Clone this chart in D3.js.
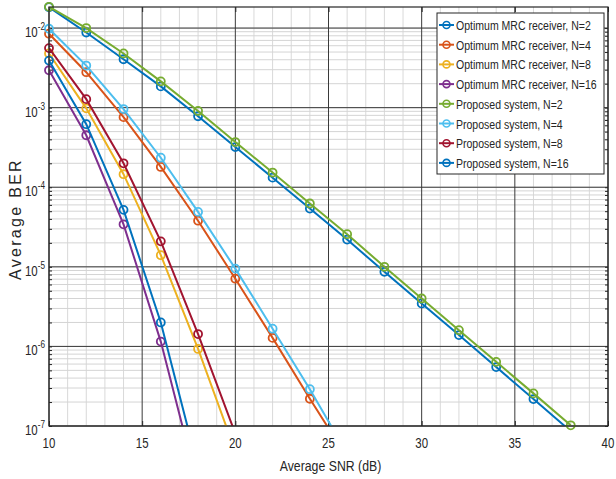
<html>
<!DOCTYPE html>
<meta charset="utf-8">
<head>
    <script src="https://cdn.jsdelivr.net/npm/d3@7"></script>
    <style>
        body { margin: 0; background: #fff; }
        text { font-family: "Liberation Sans", Arial, sans-serif; fill: #262626; }
    </style>
</head>
<body>
<div id="chart"></div>
<script>
    // SNR axis points (dB)
    var snrN2 = [10, 12, 14, 16, 18, 20, 22, 24, 26, 28, 30, 32, 34, 36, 38];
    var snrN4 = [10, 12, 14, 16, 18, 20, 22, 24, 26];
    var snrN8 = [10, 12, 14, 16, 18, 20];
    var snrN16 = [10, 12, 14, 16, 18];

    // BER values
    var mrcN2 = [1.83e-2, 8.8e-3, 4.06e-3, 1.85e-3, 7.8e-4, 3.2e-4, 1.32e-4, 5.4e-5, 2.2e-5, 8.65e-6, 3.47e-6, 1.39e-6, 5.5e-7, 2.18e-7, 8.6e-8];
    var mrcN4 = [8.5e-3, 2.79e-3, 7.6e-4, 1.8e-4, 3.8e-5, 7.1e-6, 1.28e-6, 2.2e-7, 4e-8];
    var mrcN8 = [4.8e-3, 9.8e-4, 1.46e-4, 1.4e-5, 9.3e-7, 4.8e-8];
    var mrcN16 = [2.95e-3, 4.5e-4, 3.42e-5, 1.15e-6, 1.7e-8];
    var propN2 = [1.85e-2, 1.0e-2, 4.8e-3, 2.14e-3, 9.1e-4, 3.7e-4, 1.53e-4, 6.25e-5, 2.57e-5, 1.0e-5, 4.0e-6, 1.6e-6, 6.4e-7, 2.57e-7, 1.02e-7];
    var propN4 = [9.8e-3, 3.38e-3, 9.6e-4, 2.35e-4, 4.9e-5, 9.5e-6, 1.67e-6, 2.9e-7, 4.5e-8];
    var propN8 = [5.6e-3, 1.28e-3, 2.0e-4, 2.09e-5, 1.43e-6, 8e-8];
    var propN16 = [3.9e-3, 6.2e-4, 5.2e-5, 2.0e-6, 3e-8];

    var seriesNames = ["Optimum MRC receiver, N=2", "Optimum MRC receiver, N=4", "Optimum MRC receiver, N=8", "Optimum MRC receiver, N=16",
                       "Proposed system, N=2", "Proposed system, N=4", "Proposed system, N=8", "Proposed system, N=16"];
    var seriesX = [snrN2, snrN4, snrN8, snrN16, snrN2, snrN4, snrN8, snrN16];
    var seriesY = [mrcN2, mrcN4, mrcN8, mrcN16, propN2, propN4, propN8, propN16];
    var colors = ["#0072BD", "#D95319", "#EDB120", "#7E2F8E", "#77AC30", "#4DBEEE", "#A2142F", "#0072BD"];

    var xTicks = [10, 15, 20, 25, 30, 35, 40];
    var yTickExp = [-7, -6, -5, -4, -3, -2];

    var width = 616, height = 479;
    var margin = {left: 49, right: 8, top: 7, bottom: 53};
    var sx = 0.82; // horizontal squeeze of the lettering

    var svg = d3.select("#chart").append("svg")
        .attr("width", width)
        .attr("height", height);

    var x = d3.scaleLinear().domain([10, 40]).range([margin.left, width - margin.right]);
    var y = d3.scaleLog().domain([1e-7, 0.0184]).range([height - margin.bottom, margin.top]);

    var x0 = x.range()[0], x1 = x.range()[1], y0 = y.range()[0], y1 = y.range()[1];

    // minor values on log axis
    var minorY = [];
    yTickExp.forEach(function(e) {
        for (var k = 1; k <= 9; k++) {
            var v = k * Math.pow(10, e);
            if (v >= 1e-7 && v <= 0.0184) minorY.push(v);
        }
    });
    var minorX = d3.range(10, 41, 1);

    // grid: minor first, then major
    var grid = svg.append("g");
    grid.selectAll(".mx").data(minorX.filter(function(d) { return d % 5 != 0; }))
        .enter().append("line")
        .attr("x1", function(d) { return x(d); }).attr("x2", function(d) { return x(d); })
        .attr("y1", y0).attr("y2", y1)
        .attr("stroke", "#d9d9d9").attr("stroke-width", 1);
    grid.selectAll(".my").data(minorY)
        .enter().append("line")
        .attr("x1", x0).attr("x2", x1)
        .attr("y1", function(d) { return y(d); }).attr("y2", function(d) { return y(d); })
        .attr("stroke", "#d4d4d4").attr("stroke-width", 1);
    grid.selectAll(".Mx").data(xTicks)
        .enter().append("line")
        .attr("x1", function(d) { return x(d); }).attr("x2", function(d) { return x(d); })
        .attr("y1", y0).attr("y2", y1)
        .attr("stroke", "#3a3a3a").attr("stroke-width", 1);
    grid.selectAll(".My").data(yTickExp)
        .enter().append("line")
        .attr("x1", x0).attr("x2", x1)
        .attr("y1", function(d) { return y(Math.pow(10, d)); }).attr("y2", function(d) { return y(Math.pow(10, d)); })
        .attr("stroke", "#3a3a3a").attr("stroke-width", 1);

    // axes with inward ticks on all four sides
    svg.append("g").attr("transform", "translate(0," + y0 + ")")
        .call(d3.axisTop(x).tickValues(xTicks).tickSize(5).tickFormat(""));
    svg.append("g").attr("transform", "translate(0," + y1 + ")")
        .call(d3.axisBottom(x).tickValues(xTicks).tickSize(5).tickFormat(""));
    svg.append("g").attr("transform", "translate(" + x0 + ",0)")
        .call(d3.axisRight(y).tickValues(minorY).tickSize(3).tickFormat(""));
    svg.append("g").attr("transform", "translate(" + x1 + ",0)")
        .call(d3.axisLeft(y).tickValues(minorY).tickSize(3).tickFormat(""));
    svg.selectAll(".domain").remove();
    svg.selectAll(".tick line").attr("stroke", "#262626");

    // data lines, clipped to the axes box
    svg.append("clipPath").attr("id", "clip")
        .append("rect").attr("x", x0).attr("y", y1).attr("width", x1 - x0).attr("height", y0 - y1);

    var line = d3.line()
        .x(function(d) { return x(d[0]); })
        .y(function(d) { return y(d[1]); });

    for (var i = 0; i < seriesY.length; i++) {
        var pts = seriesX[i].map(function(v, j) { return [v, seriesY[i][j]]; });
        svg.append("path")
            .datum(pts)
            .attr("clip-path", "url(#clip)")
            .attr("fill", "none")
            .attr("stroke", colors[i])
            .attr("stroke-width", 2)
            .attr("d", line);
        svg.append("g").selectAll("circle")
            .data(pts.filter(function(d) { return d[1] >= 0.97e-7; }))
            .enter().append("circle")
            .attr("cx", function(d) { return x(d[0]); })
            .attr("cy", function(d) { return y(d[1]); })
            .attr("r", 4)
            .attr("fill", "none")
            .attr("stroke", colors[i])
            .attr("stroke-width", 1.8);
    }

    // box
    svg.append("rect")
        .attr("x", x0).attr("y", y1).attr("width", x1 - x0).attr("height", y0 - y1)
        .attr("fill", "none").attr("stroke", "#262626").attr("stroke-width", 1.2);

    // tick labels
    xTicks.forEach(function(t) {
        svg.append("text")
            .attr("transform", "translate(" + x(t) + "," + (y0 + 22) + ") scale(" + sx + ",1)")
            .attr("text-anchor", "middle")
            .attr("font-size", "14px")
            .text(t);
    });
    yTickExp.forEach(function(e) {
        var t = svg.append("text")
            .attr("transform", "translate(45," + (y(Math.pow(10, e)) + 9) + ") scale(" + sx + ",1)")
            .attr("text-anchor", "end")
            .attr("font-size", "14px");
        t.append("tspan").text("10");
        t.append("tspan").attr("dy", -7).attr("font-size", "10px").text(e);
    });

    // axis titles
    svg.append("text")
        .attr("transform", "translate(" + ((x0 + x1) / 2 + 2) + "," + (y0 + 45) + ") scale(" + sx + ",1)")
        .attr("text-anchor", "middle")
        .attr("font-size", "15px")
        .text("Average SNR (dB)");
    svg.append("text")
        .attr("transform", "translate(21,219) rotate(-90)")
        .attr("text-anchor", "middle")
        .attr("font-size", "16px")
        .attr("letter-spacing", "2.3px")
        .text("Average BER");

    // legend
    var lg = svg.append("g").attr("transform", "translate(437,13)");
    lg.append("rect")
        .attr("width", 167).attr("height", 161)
        .attr("fill", "#fff").attr("stroke", "#262626").attr("stroke-width", 1);
    seriesNames.forEach(function(name, i) {
        var cy = 12 + i * 19.7;
        lg.append("line")
            .attr("x1", 2).attr("x2", 17).attr("y1", cy).attr("y2", cy)
            .attr("stroke", colors[i]).attr("stroke-width", 2);
        lg.append("circle")
            .attr("cx", 9.5).attr("cy", cy).attr("r", 3.5)
            .attr("fill", "none").attr("stroke", colors[i]).attr("stroke-width", 1.6);
        lg.append("text")
            .attr("transform", "translate(19," + (cy + 5) + ") scale(0.78,1)")
            .attr("font-size", "13.5px")
            .text(name);
    });
</script>
</body>
</html>
